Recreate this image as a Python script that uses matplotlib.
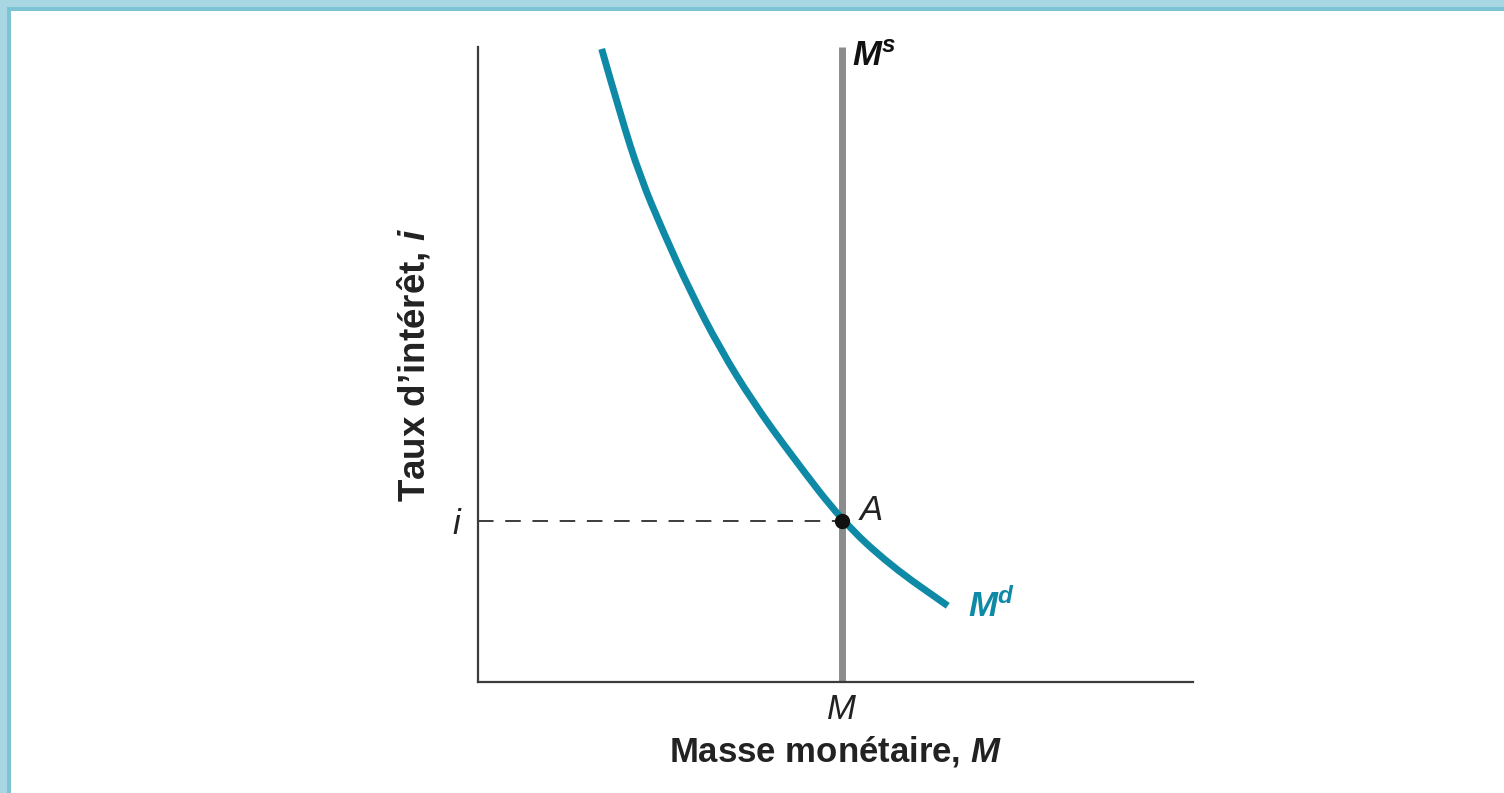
import numpy as np
import matplotlib.pyplot as plt
from matplotlib.patches import Rectangle, PathPatch
from matplotlib.path import Path

plt.rcParams['font.family'] = ['Liberation Sans', 'DejaVu Sans']
plt.rcParams['mathtext.fontset'] = 'custom'
plt.rcParams['mathtext.it'] = 'Liberation Sans:italic'
plt.rcParams['mathtext.bf'] = 'Liberation Sans:bold:italic'
plt.rcParams['mathtext.rm'] = 'Liberation Sans'

# money demand curve
md_x = [1.73, 1.99, 2.27, 2.59, 2.97, 3.38, 3.85, 4.41, 5.09, 5.76, 6.57]
md_y = [9.97, 8.94, 7.95, 7.09, 6.15, 5.26, 4.40, 3.53, 2.54, 1.84, 1.20]
ms_x = 5.09          # money supply (vertical)
i_eq = 2.54          # equilibrium rate

teal = '#0f8aa6'
grey = '#8c8c8c'
dark = '#3c3c3c'
fs = 25

fig = plt.figure(figsize=(15.04, 7.93), dpi=100)
ax = fig.add_axes([0.3178, 0.14, 0.4754, 0.8007])

# frame band on top and left
fig.add_artist(Rectangle((0, 1 - 7/793), 1, 7/793, transform=fig.transFigure, color='#a8d6e3', lw=0))
fig.add_artist(Rectangle((0, 1 - 11/793), 1, 4/793, transform=fig.transFigure, color='#7cc3d6', lw=0))
fig.add_artist(Rectangle((0, 0), 7/1504, 1, transform=fig.transFigure, color='#a8d6e3', lw=0))
fig.add_artist(Rectangle((7/1504, 0), 4/1504, 1 - 7/793, transform=fig.transFigure, color='#7cc3d6', lw=0))

ax.set_xlim(0, 10)
ax.set_ylim(0, 10)

ax.plot([ms_x, ms_x], [0, 10], color=grey, lw=5, solid_capstyle='butt', zorder=2)

# smooth the demand curve with quadratic bezier segments through the read points
pts = list(zip(md_x, md_y))
verts = [pts[0]]
codes = [Path.MOVETO]
for k in range(1, len(pts) - 1):
    mid = ((pts[k][0] + pts[k + 1][0]) / 2, (pts[k][1] + pts[k + 1][1]) / 2)
    verts += [pts[k], mid]
    codes += [Path.CURVE3, Path.CURVE3]
verts.append(pts[-1])
codes.append(Path.LINETO)
ax.add_patch(PathPatch(Path(verts, codes), fill=False, edgecolor=teal, lw=5, capstyle='butt', zorder=3))

ax.plot([0, ms_x], [i_eq, i_eq], color=dark, lw=1.4, dashes=(8, 6), zorder=1)
ax.plot([ms_x], [i_eq], 'o', color='#111111', ms=10, zorder=4)

ax.text(ms_x + 0.14, 9.85, r'$\mathbf{M}^{\mathbf{s}}$', fontsize=fs, color='#111111', va='center', ha='left')
ax.text(6.85, 1.2, r'$\mathbf{M}^{\mathbf{d}}$', fontsize=fs, color=teal, va='center', ha='left')
ax.text(ms_x + 0.22, 2.7, r'$A$', fontsize=fs, color='#222222', va='center', ha='left')

for s in ['top', 'right']:
    ax.spines[s].set_visible(False)
for s in ['left', 'bottom']:
    ax.spines[s].set_color(dark)
    ax.spines[s].set_linewidth(1.6)

ax.set_xticks([ms_x])
ax.set_xticklabels([r'$M$'], fontsize=fs, color='#222222')
ax.set_yticks([i_eq])
ax.set_yticklabels([r'$i$'], fontsize=fs, color='#222222')
ax.tick_params(length=0)
ax.tick_params(axis='x', pad=8)
ax.tick_params(axis='y', pad=11)

ax.set_xlabel(r'Masse monétaire, $\mathbf{M}$', fontsize=fs, fontweight='bold', color='#222222', labelpad=6)
ax.set_ylabel(r'Taux d’intérêt, $\mathbf{i}$', fontsize=26.5, fontweight='bold', color='#222222', labelpad=14)

fig.savefig('out.png', dpi=100)
